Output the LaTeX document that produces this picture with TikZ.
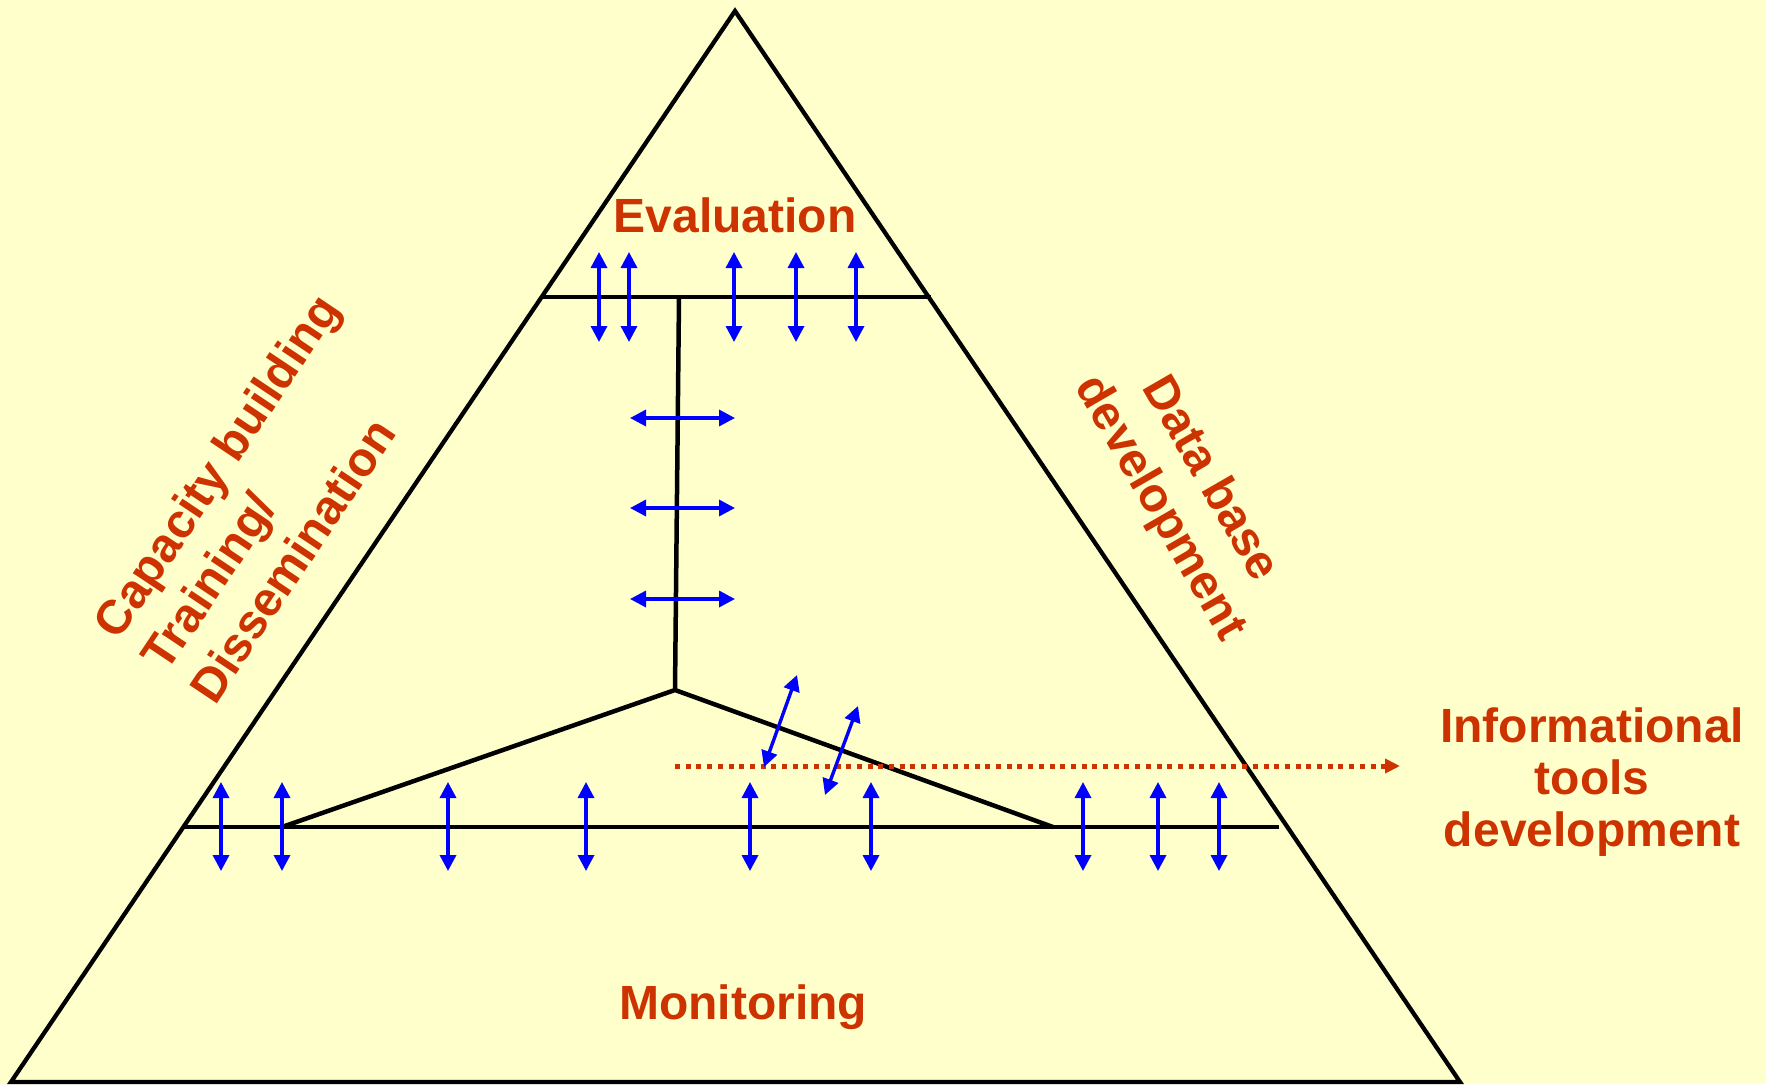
\documentclass[tikz,border=0pt]{standalone}
\usepackage{fontspec}
\setmainfont{Liberation Sans}
\usetikzlibrary{arrows.meta}
\definecolor{bgyellow}{HTML}{FFFFCC}
\definecolor{txtred}{HTML}{CC3300}
\definecolor{arrblue}{HTML}{0000FF}
\begin{document}
\begin{tikzpicture}[x=1pt,y=-1pt,
  frame/.style={line width=4.3pt, line join=miter},
  innerline/.style={line width=4.5pt},
  darr/.style={arrblue, line width=3.4pt, {Triangle[length=16pt,width=16pt]}-{Triangle[length=16pt,width=16pt]}},
  lbl/.style={txtred, font=\bfseries\fontsize{48}{58}\selectfont, inner sep=0pt},
  dotarr/.style={txtred, line width=5pt, dash pattern=on 5pt off 5.7pt, -{Triangle[length=15pt,width=14pt]}},
]
\fill[bgyellow] (0,0) rectangle (1766,1084);
\useasboundingbox (0,0) rectangle (1766,1084);

% main triangle
\coordinate (A) at (735,11);
\coordinate (BL) at (11,1082);
\coordinate (BR) at (1460,1082);
\draw[frame] (A) -- (BL) -- (BR) -- cycle;

% inner structure
\coordinate (U1) at (542,297);
\coordinate (U2) at (931,297);
\coordinate (V1) at (679,297);
\coordinate (J) at (675,690);
\coordinate (L1) at (183,827);
\coordinate (L2) at (1279,827);
\coordinate (LJ) at (282,827);
\coordinate (RJ) at (1053,827);
\draw[innerline] (U1) -- (U2);
\draw[innerline] (V1) -- (J);
\draw[innerline, line join=miter] (LJ) -- (J) -- (RJ);
\draw[innerline] (L1) -- (L2);

% dotted arrow
\coordinate (D1) at (675,766);
\coordinate (D2) at (1400,766);
\draw[dotarr] (D1) -- (D2);

% upper vertical arrows
\foreach \x in {599,629,734,796,856}
  \draw[darr] (\x,252) -- (\x,342);
% lower vertical arrows
\foreach \x in {221,282,448,586,750,871,1083,1158,1219}
  \draw[darr] (\x,782) -- (\x,871);
% horizontal arrows
\foreach \y in {418,508,599}
  \draw[darr] (630,\y) -- (735,\y);
% diagonal arrows
\coordinate (G1a) at (797,675);
\coordinate (G1b) at (764,767);
\coordinate (G2a) at (858,706);
\coordinate (G2b) at (825,795);
\draw[darr] (G1a) -- (G1b);
\draw[darr] (G2a) -- (G2b);

% labels
\node[lbl, anchor=base] (eval) at (735,232) {Evaluation};
\node[lbl, anchor=base] (mon) at (743,1019) {Monitoring};
\node[lbl, align=center, font=\bfseries\fontsize{48}{52}\selectfont] (info) at (1592,782) {Informational\\tools\\development};
\node[lbl, align=left, rotate=56.2] (cap) at (264,498) {Capacity building\\Training/\\Dissemination};
\node[lbl, align=center, rotate=-60] (db) at (1184,494) {Data base\\development};
\end{tikzpicture}
\end{document}
